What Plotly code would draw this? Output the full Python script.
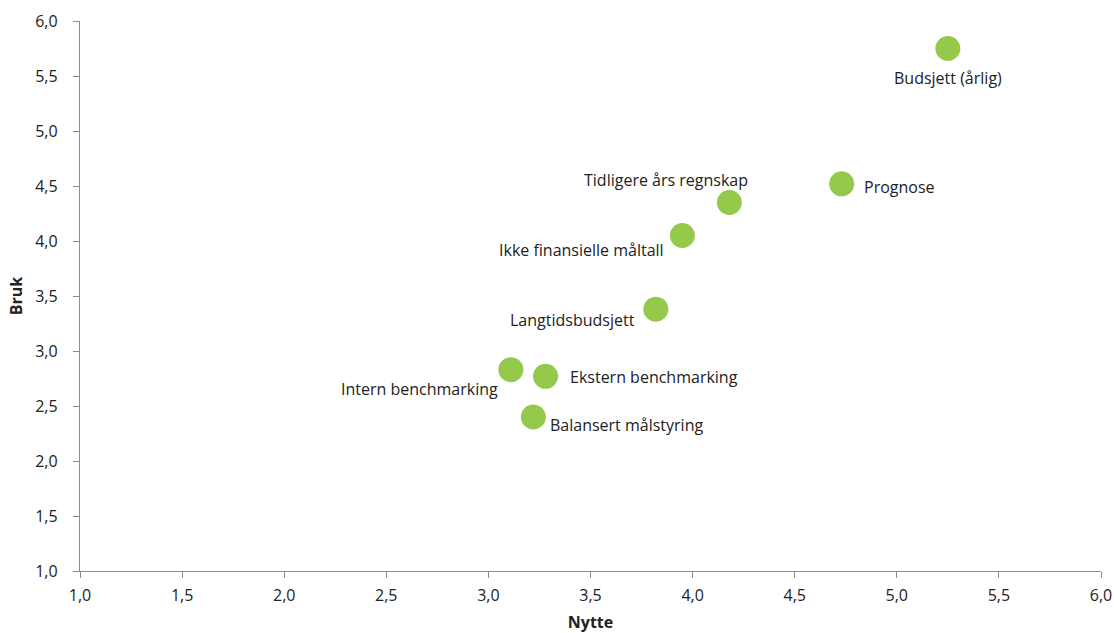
import plotly.graph_objects as go

# Verktøy: nytte (x) mot bruk (y)
labels = [
    "Budsjett (årlig)",
    "Prognose",
    "Tidligere års regnskap",
    "Ikke finansielle måltall",
    "Langtidsbudsjett",
    "Intern benchmarking",
    "Ekstern benchmarking",
    "Balansert målstyring",
]
nytte = [5.25, 4.73, 4.18, 3.95, 3.82, 3.11, 3.28, 3.22]
bruk = [5.75, 4.52, 4.35, 4.05, 3.38, 2.83, 2.77, 2.40]

tick_vals = [1.0, 1.5, 2.0, 2.5, 3.0, 3.5, 4.0, 4.5, 5.0, 5.5, 6.0]
tick_text = ["1,0", "1,5", "2,0", "2,5", "3,0", "3,5", "4,0", "4,5", "5,0", "5,5", "6,0"]

# label placement per point: (xanchor, yanchor, xshift, yshift)
placement = [
    ("center", "middle", 0, -29),
    ("left", "middle", 20, -3),
    ("right", "middle", 21, 23),
    ("right", "middle", -16, -14),
    ("right", "middle", -19, -11),
    ("right", "middle", -11, -19),
    ("left", "middle", 22, -1),
    ("left", "middle", 15, -8),
]

FONT = "Open Sans, Noto Sans, sans-serif"
TXT = "#222222"
AXIS = "#8c8c8c"

fig = go.Figure()
fig.add_trace(go.Scatter(
    x=nytte, y=bruk, mode="markers",
    marker=dict(size=25, color="#94C94B", line=dict(width=0)),
    hoverinfo="text", text=labels,
))

for lab, xv, yv, (xa, ya, xs, ys) in zip(labels, nytte, bruk, placement):
    fig.add_annotation(
        x=xv, y=yv, text=lab, showarrow=False,
        xanchor=xa, yanchor=ya, xshift=xs, yshift=ys,
        font=dict(family=FONT, size=16, color=TXT),
    )

axis_common = dict(
    range=[1.0, 6.0], tickvals=tick_vals, ticktext=tick_text,
    showgrid=False, zeroline=False, showline=True, automargin=False,
    linecolor=AXIS, linewidth=1.3,
    ticks="outside", ticklen=6, tickcolor=AXIS, tickwidth=1.3,
    tickfont=dict(family=FONT, size=16, color=TXT),
)

fig.update_layout(
    width=1114, height=633,
    margin=dict(l=80, r=13, t=21, b=62, autoexpand=False),
    paper_bgcolor="white", plot_bgcolor="white",
    showlegend=False,
    xaxis=dict(**axis_common,
               title=dict(text="<b>Nytte</b>", standoff=12,
                          font=dict(family=FONT, size=16, color=TXT))),
    yaxis=dict(**axis_common,
               title=dict(text="<b>Bruk</b>", standoff=8,
                          font=dict(family=FONT, size=16, color=TXT))),
)
fig.update_xaxes(ticklabelstandoff=4)
fig.update_yaxes(ticklabelstandoff=12)

fig.write_html("out.html")
